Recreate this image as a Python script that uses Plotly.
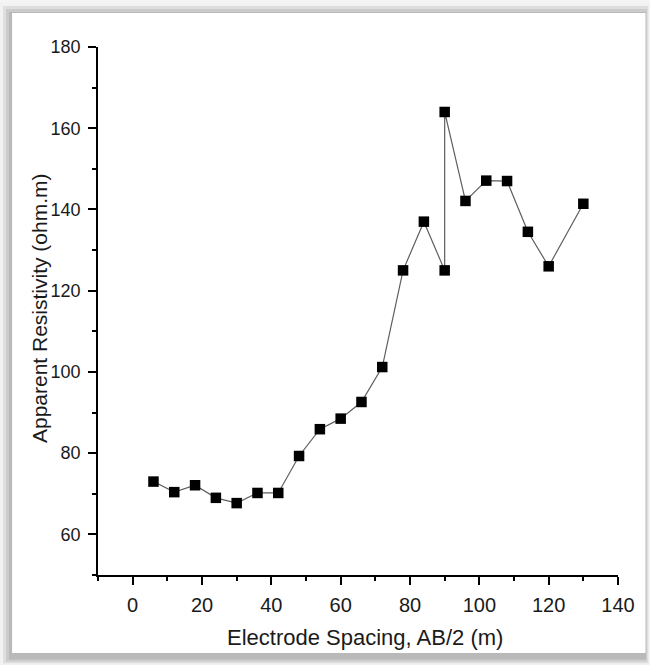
import plotly.graph_objects as go

# Data
spacing_ab2 = [6, 12, 18, 24, 30, 36, 42, 48, 54, 60, 66, 72, 78, 84, 90, 90, 96, 102, 108, 114, 120, 130]
resistivity = [73.0, 70.4, 72.1, 69.0, 67.7, 70.2, 70.2, 79.3, 85.9, 88.5, 92.6, 101.2, 125.0, 137.0, 125.0, 164.0, 142.1, 147.1, 147.0, 134.5, 126.0, 141.4]
x_ticks = [0, 20, 40, 60, 80, 100, 120, 140]
y_ticks = [60, 80, 100, 120, 140, 160, 180]
x_title = "Electrode Spacing, AB/2 (m)"
y_title = "Apparent Resistivity (ohm.m)"

FONT = "Liberation Sans, Arial, sans-serif"

fig = go.Figure()
fig.add_trace(go.Scatter(
    x=spacing_ab2, y=resistivity,
    mode="lines+markers",
    line=dict(color="#5e5e5e", width=1.2),
    marker=dict(symbol="square", size=10.5, color="black", line=dict(width=0)),
    showlegend=False,
    hoverinfo="skip",
))

# picture frame / shadow
shapes = []
shadow = [(0, "#f2f2f2"), (3, "#dedede"), (6, "#cbcbcb"), (9, "#b9b9b9")]
W, H = 650, 665
l, r, t, b = 98, 31.5, 47, 90
pw, ph = W - l - r, H - t - b
def px2paper(x0, y0, x1, y1):
    return dict(x0=(x0 - l) / pw, x1=(x1 - l) / pw,
                y0=(H - b - y1) / ph, y1=(H - b - y0) / ph)
for inset, col in shadow:
    shapes.append(dict(type="rect", xref="paper", yref="paper", layer="below",
                       line=dict(width=0), fillcolor=col,
                       **px2paper(inset, inset + 3, W - inset * 0.4, H - inset * 0.6)))
shapes.append(dict(type="rect", xref="paper", yref="paper", layer="below",
                   line=dict(width=0), fillcolor="white",
                   **px2paper(12, 13, 646, 653)))

annotations = [
    dict(text=x_title, xref="paper", yref="paper",
         x=(365 - l) / pw, y=(H - b - 637) / ph, xanchor="center", yanchor="middle",
         showarrow=False, font=dict(size=22, family=FONT, color="#1a1a1a")),
    dict(text=y_title, xref="paper", yref="paper", textangle=-90,
         x=(39 - l) / pw, y=(H - b - 308) / ph, xanchor="center", yanchor="middle",
         showarrow=False, font=dict(size=21, family=FONT, color="#1a1a1a")),
]

fig.update_layout(
    width=W, height=H,
    margin=dict(l=l, r=r, t=t, b=b, pad=0),
    paper_bgcolor="#f4f4f4",
    plot_bgcolor="rgba(0,0,0,0)",
    font=dict(family=FONT, size=20, color="#1a1a1a"),
    shapes=shapes,
    annotations=annotations,
    xaxis=dict(
        range=[-10, 140],
        tickvals=x_ticks,
        ticks="outside", ticklen=8, tickwidth=1.5, tickcolor="black",
        minor=dict(dtick=10, tick0=-10, ticks="outside", ticklen=4, tickwidth=1.5, tickcolor="black"),
        showline=True, linecolor="black", linewidth=1.8,
        showgrid=False, zeroline=False,
        tickfont=dict(size=20),
        ticklabelstandoff=3,
    ),
    yaxis=dict(
        range=[50, 180],
        tickvals=y_ticks,
        ticks="outside", ticklen=8, tickwidth=1.5, tickcolor="black",
        minor=dict(dtick=10, tick0=50, ticks="outside", ticklen=4, tickwidth=1.5, tickcolor="black"),
        showline=True, linecolor="black", linewidth=1.8,
        showgrid=False, zeroline=False,
        tickfont=dict(size=18),
        ticklabelstandoff=4,
    ),
)

fig.write_html("out.html", config={"displayModeBar": False},
               post_script="document.body.style.margin='0';")
